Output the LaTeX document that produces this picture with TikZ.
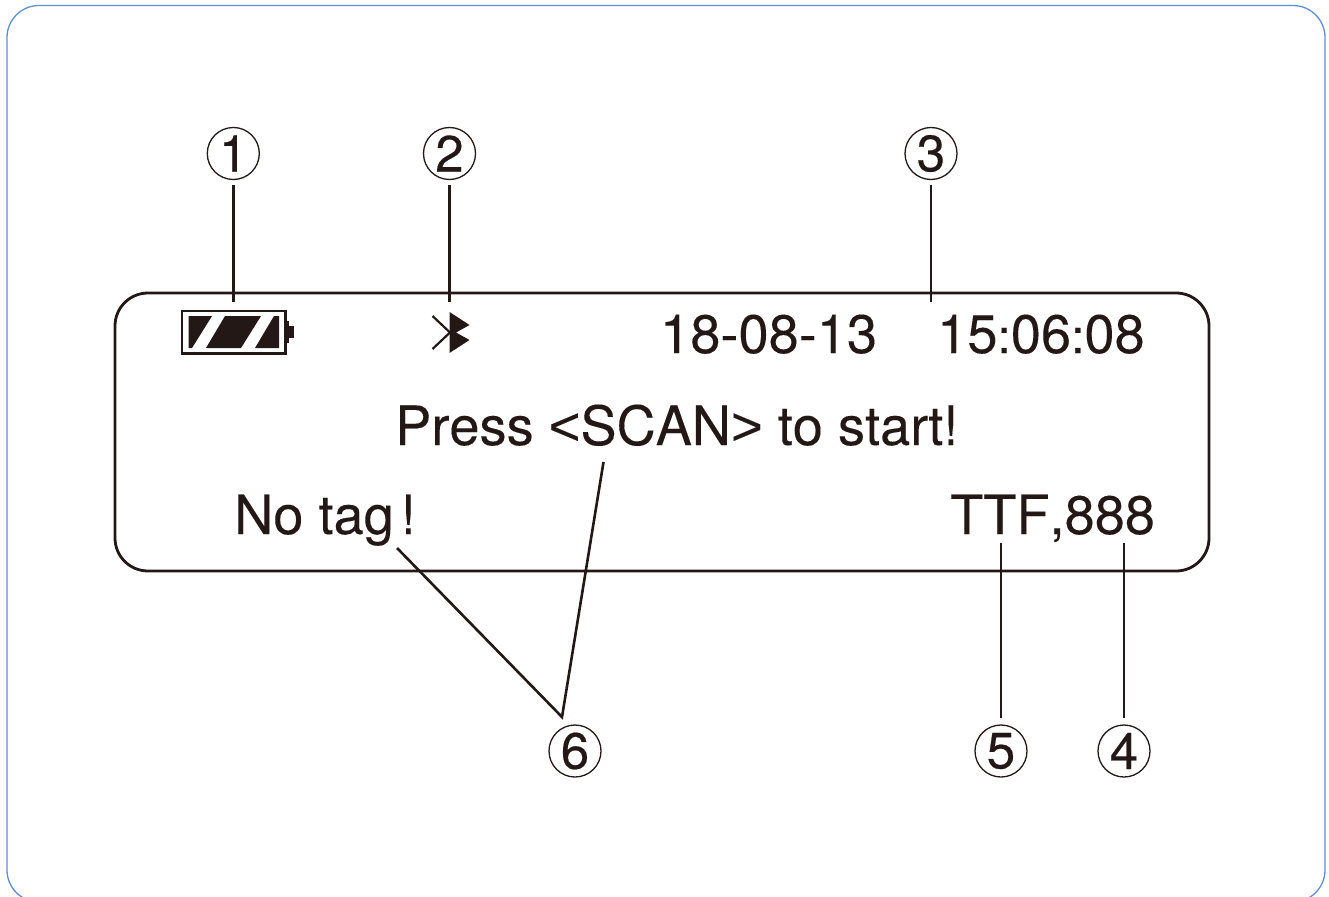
\documentclass[tikz,border=0pt]{standalone}
\usepackage{fontspec}
\setmainfont[Kerning=Off]{TeX Gyre Heros}
\newfontfamily\libfont[FakeBold=0.15]{Liberation Sans}
\definecolor{ink}{HTML}{231815}
\definecolor{frameblue}{HTML}{5F8FD6}
\tikzset{
  x=1pt,y=-1pt,
  lead/.style={draw=ink,line width=2.6pt},
  num/.style={circle,draw=ink,line width=1.3pt,minimum size=52pt,inner sep=0pt,text=ink,font=\fontsize{51}{51}\selectfont\addfontfeature{FakeBold=0.4}},
  lcd/.style={anchor=base west,inner sep=0pt,text=ink,font=\fontsize{54.2}{55}\selectfont\addfontfeature{FakeBold=0.15}},
}
\newcommand{\smallcolon}{{\fontsize{48}{48}\selectfont :}}
\begin{document}
\begin{tikzpicture}
\useasboundingbox (0,0) rectangle (1329,896);
\fill[white] (0,0) rectangle (1329,896);
\begin{scope}
\clip (0,0) rectangle (1329,896);
\draw[frameblue,line width=1.3pt,rounded corners=32pt] (7,5.5) rectangle (1325,902);
\end{scope}
% display
\draw[ink,line width=2.8pt,rounded corners=33pt] (115,293) rectangle (1209,571);
% battery
\draw[ink,line width=2.4pt] (182,311) rectangle (285.5,353.5);
\fill[ink] (285.5,321) rectangle (289,343);
\fill[ink] (289,326) rectangle (293.5,338);
\fill[ink] (188.5,316) -- (212,316) -- (192,348) -- (188.5,348) -- cycle;
\fill[ink] (225,316) -- (261,316) -- (241,348) -- (206,348) -- cycle;
\fill[ink] (274,316) -- (279,316) -- (279,348) -- (255,348) -- cycle;
% bluetooth
\fill[ink] (449.5,312) -- (469.5,325) -- (456,332.5) -- (469.5,340) -- (449.5,353) -- cycle;
\draw[ink,line width=2.2pt] (432.5,316) -- (450,332.5) -- (432.5,349);
% text
\node[lcd] (date) at (660,353) {18-08-13};
\node[lcd] (time) at (937,353) {15\smallcolon06\smallcolon08};
\node[lcd] (press) at (395,445) {Press {\libfont<}SCAN{\libfont>} to start!};
\node[lcd] (notag) at (234,534) {No tag\kern7pt!};
\node[lcd] (ttf) at (950,534) {TTF,888};
% numbers
\node[num] (n1) at (233.3,153.5) {1};
\node[num] (n2) at (449.5,153.5) {2};
\node[num] (n3) at (931,153.5) {3};
\node[num] (n4) at (1124,751) {4};
\node[num] (n5) at (1001,751) {5};
\node[num] (n6) at (575,751) {6};
% anchors
\coordinate (a1) at (233.5,302);
\coordinate (a2) at (449.5,302);
\coordinate (a3) at (931,302);
\coordinate (a4) at (1124,543);
\coordinate (a5) at (1001,543);
\coordinate (a6a) at (603.5,462);
\coordinate (a6b) at (397,548);
\coordinate (a6c) at (562,717);
\coordinate (t1) at (233.5,185);
\coordinate (t2) at (449.5,185);
\coordinate (t3) at (931,185);
\coordinate (t4) at (1124,718);
\coordinate (t5) at (1001,718);
\draw[lead] (t1) -- (a1);
\draw[lead] (t2) -- (a2);
\draw[lead] (t3) -- (a3);
\draw[lead] (a4) -- (t4);
\draw[lead] (a5) -- (t5);
\draw[lead,line join=miter] (a6a) -- (a6c) -- (a6b);
\end{tikzpicture}
\end{document}
